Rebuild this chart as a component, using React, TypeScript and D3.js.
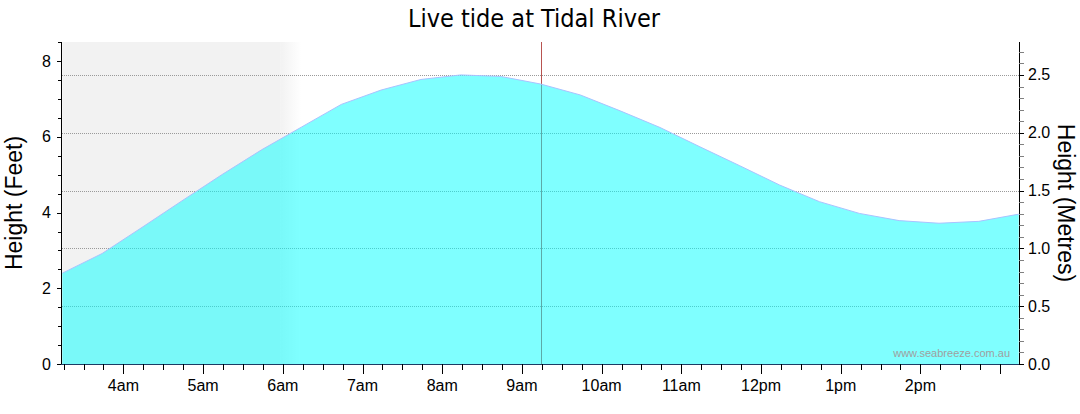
import React from "react";
import * as d3 from "d3";

// ---- data ----
const TITLE = "Live tide at Tidal River";
const LEFT_TITLE = "Height (Feet)";
const RIGHT_TITLE = "Height (Metres)";
const WATERMARK = "www.seabreeze.com.au";
const WINDOW_START = "2024-01-01T03:14:00";
const WINDOW_END = "2024-01-01T15:14:00";
const NOW = "2024-01-01T09:14:00";
const NIGHT_FADE_START = "2024-01-01T05:58:00";
const NIGHT_END = "2024-01-01T06:14:00";
const STEP_MINUTES = 30;
// tide height in feet, every 30 minutes from 03:14
const tideFeet = [
  2.4, 2.92, 3.61, 4.31, 5.0, 5.66, 6.26, 6.86, 7.24, 7.52, 7.64, 7.6, 7.4,
  7.11, 6.69, 6.25, 5.74, 5.24, 4.73, 4.29, 3.98, 3.79, 3.72, 3.77, 3.96,
];
const feetTicks = [0, 2, 4, 6, 8];
const metreTicks = [0.0, 0.5, 1.0, 1.5, 2.0, 2.5];
const hourTickLabels = ["4am", "5am", "6am", "7am", "8am", "9am", "10am", "11am", "12pm", "1pm", "2pm", ""];

const W = 1080;
const H = 414;
const L = 62.3;
const R = 1018.7;
const T = 42;
const B = 364;

export default function App() {
  const t0 = new Date(WINDOW_START);
  const t1 = new Date(WINDOW_END);
  const x = d3.scaleTime().domain([t0, t1]).range([L, R]);
  const yFt = d3.scaleLinear().domain([0, 8.51]).range([B, T]);
  const yM = d3.scaleLinear().domain([0, 2.785]).range([B, T]);

  const data = tideFeet.map((v, i) => ({ t: d3.timeMinute.offset(t0, i * STEP_MINUTES), v }));
  const area = d3
    .area<{ t: Date; v: number }>()
    .x((d) => x(d.t))
    .y0(B)
    .y1((d) => yFt(d.v));
  const line = d3
    .line<{ t: Date; v: number }>()
    .x((d) => x(d.t))
    .y((d) => yFt(d.v));

  const hourTicks = d3.timeHour.range(d3.timeHour.ceil(t0), t1);
  const quarterTicks = d3.timeMinute.every(15)!.range(t0, t1).filter((d) => d.getMinutes() !== 0);
  const feetMinor = d3.range(0, 8.51, 0.5).filter((v) => v % 2 !== 0);
  const metreMinor = d3.range(0, 2.785, 0.1).filter((v) => Math.abs(Math.round(v * 10) % 5) !== 0);

  const nowX = x(new Date(NOW));
  const fadeX0 = x(new Date(NIGHT_FADE_START));
  const fadeX1 = x(new Date(NIGHT_END));
  const sans = "'Liberation Sans', Arial, sans-serif";
  const crisp = { shapeRendering: "crispEdges" as const };
  const px = (v: number) => Math.round(v) + 0.5;

  return (
    <svg width={W} height={H} style={{ position: "absolute", left: 0, top: 0, background: "#fff" }}>
      <defs>
        <linearGradient id="nightFade" gradientUnits="userSpaceOnUse" x1={fadeX0} x2={fadeX1} y1={0} y2={0}>
          <stop offset="0" stopColor="#f2f2f2" />
          <stop offset="1" stopColor="#ffffff" />
        </linearGradient>
      </defs>
      <text
        x={534}
        y={27}
        textAnchor="middle"
        fontFamily="'DejaVu Sans Condensed', 'DejaVu Sans', sans-serif"
        fontStretch="condensed"
        fontSize={25}
        fill="#000"
      >
        {TITLE}
      </text>

      {/* night shading */}
      <rect x={L} y={T} width={fadeX0 - L} height={B - T} fill="#f2f2f2" />
      <rect x={fadeX0} y={T} width={fadeX1 - fadeX0} height={B - T} fill="url(#nightFade)" />

      {/* gridlines */}
      {metreTicks
        .filter((v) => v > 0)
        .map((v) => (
          <line key={"g" + v} x1={L} x2={R} y1={px(yM(v))} y2={px(yM(v))} stroke="#9a9a9a" strokeDasharray="1,1" {...crisp} />
        ))}

      {/* now line */}
      <line x1={px(nowX)} x2={px(nowX)} y1={T} y2={B} stroke="#b85450" strokeWidth={1} {...crisp} />

      {/* tide area */}
      <path d={area(data)!} fill="rgba(0,255,255,0.5)" />
      <path d={line(data)!} fill="none" stroke="#a9c2ff" strokeWidth={1} />

      {/* watermark */}
      <text x={1010} y={357} textAnchor="end" fontFamily={sans} fontSize={11} fill="#a0a0a0">
        {WATERMARK}
      </text>

      {/* left axis */}
      <line x1={px(L) - 1} x2={px(L) - 1} y1={T} y2={B} stroke="#000" {...crisp} />
      {feetTicks.map((v) => (
        <g key={"lf" + v}>
          <line x1={L - 5.5} x2={L} y1={px(yFt(v))} y2={px(yFt(v))} stroke="#000" {...crisp} />
          <text x={51} y={yFt(v) + 5.5} textAnchor="end" fontFamily={sans} fontSize={16} fill="#000">
            {v}
          </text>
        </g>
      ))}
      {feetMinor.map((v) => (
        <line key={"lm" + v} x1={L - 4.5} x2={L} y1={px(yFt(v))} y2={px(yFt(v))} stroke="#000" {...crisp} />
      ))}
      <text
        transform={`translate(22,${(T + B) / 2}) rotate(-90)`}
        textAnchor="middle"
        fontFamily={sans}
        fontSize={23}
        fill="#000"
      >
        {LEFT_TITLE}
      </text>

      {/* right axis */}
      <line x1={px(R)} x2={px(R)} y1={T} y2={B} stroke="#000" {...crisp} />
      {metreTicks.map((v) => (
        <g key={"rm" + v}>
          <line x1={R} x2={R + 5.5} y1={px(yM(v))} y2={px(yM(v))} stroke="#000" {...crisp} />
          <text x={1028} y={yM(v) + 5.5} textAnchor="start" fontFamily={sans} fontSize={16} fill="#000">
            {v.toFixed(1)}
          </text>
        </g>
      ))}
      {metreMinor.map((v) => (
        <line key={"rn" + v} x1={R} x2={R + 5} y1={px(yM(v))} y2={px(yM(v))} stroke="#808080" {...crisp} />
      ))}
      <text
        transform={`translate(1058,${(T + B) / 2}) rotate(90)`}
        textAnchor="middle"
        fontFamily={sans}
        fontSize={23}
        fill="#000"
      >
        {RIGHT_TITLE}
      </text>

      {/* bottom axis */}
      <line x1={L - 1} x2={R} y1={px(B)} y2={px(B)} stroke="#1c3c64" {...crisp} />
      {quarterTicks.map((d) => (
        <line key={"q" + d.getTime()} x1={px(x(d))} x2={px(x(d))} y1={B} y2={B + 5.5} stroke="#000" {...crisp} />
      ))}
      {hourTicks.map((d, i) => (
        <g key={"h" + d.getTime()}>
          <line x1={px(x(d))} x2={px(x(d))} y1={B} y2={B + 10} stroke="#000" {...crisp} />
          <text x={x(d)} y={391} textAnchor="middle" fontFamily={sans} fontSize={16} fill="#000">
            {hourTickLabels[i]}
          </text>
        </g>
      ))}
    </svg>
  );
}
